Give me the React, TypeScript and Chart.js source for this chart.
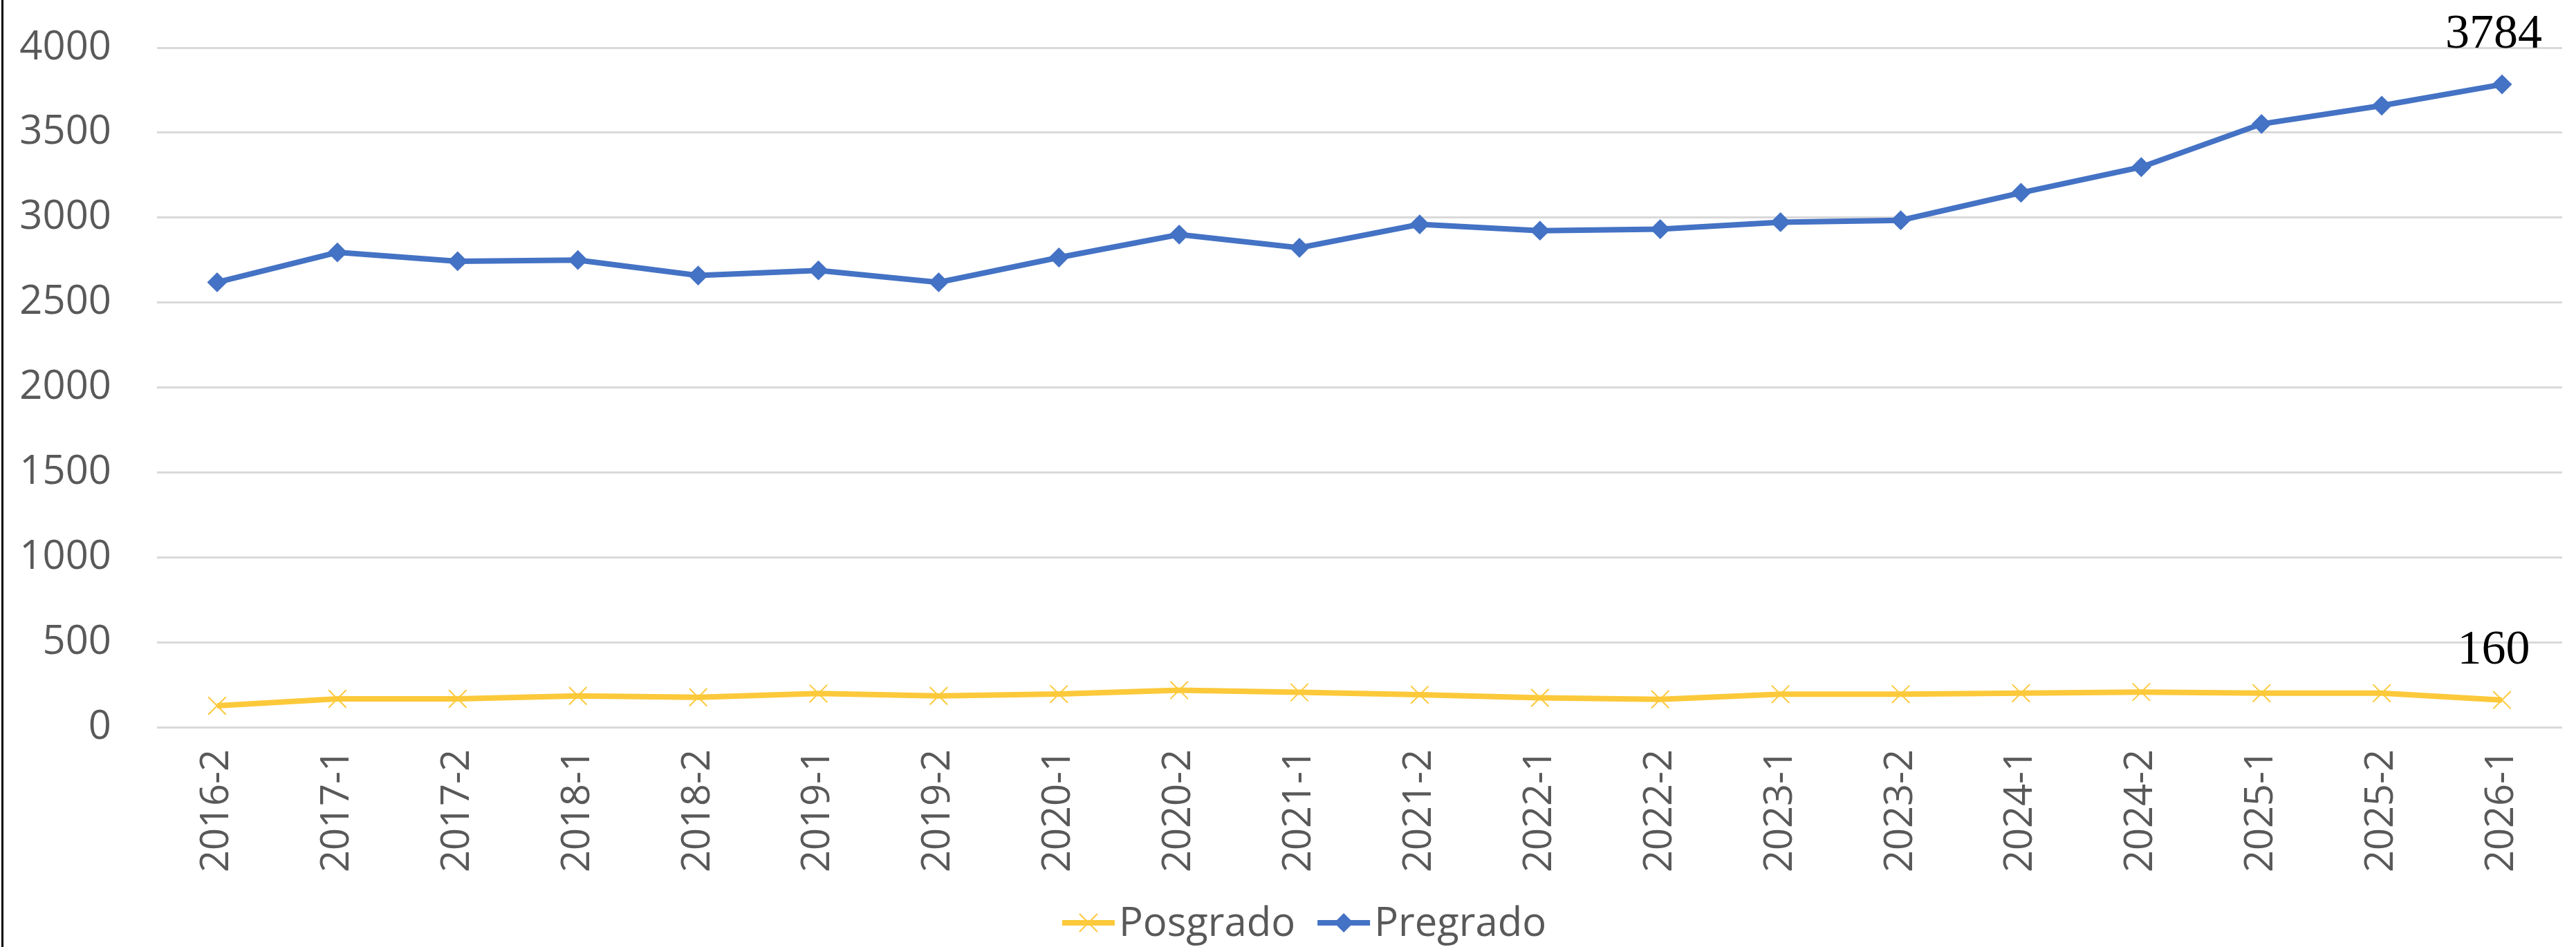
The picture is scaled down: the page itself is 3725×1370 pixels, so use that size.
import React, { useEffect, useRef } from 'react';
import { Chart, registerables } from 'chart.js';

Chart.register(...registerables);

const categories = [
  '2016-2', '2017-1', '2017-2', '2018-1', '2018-2', '2019-1', '2019-2', '2020-1', '2020-2', '2021-1',
  '2021-2', '2022-1', '2022-2', '2023-1', '2023-2', '2024-1', '2024-2', '2025-1', '2025-2', '2026-1',
];

const posgrado = [126, 167, 167, 184, 176, 198, 184, 195, 218, 205, 191, 173, 164, 194, 194, 200, 207, 200, 200, 160];

const pregrado = [2619, 2795, 2743, 2750, 2659, 2689, 2619, 2765, 2900, 2822, 2960, 2923, 2932, 2973, 2984, 3146, 3297, 3551, 3659, 3784];

const seriesNames = ['Posgrado', 'Pregrado'];

const yMin = 0;
const yMax = 4000;
const yStep = 500;

const BLUE = '#4472C4';
const GOLD = '#FCC93B';
const GRID = '#D9D9D9';
const TEXT = '#595959';
const SANS = '"Open Sans", "Noto Sans", sans-serif';

const lastValueLabels = {
  id: 'lastValueLabels',
  afterDatasetsDraw(chart: any) {
    const ctx = chart.ctx;
    ctx.save();
    ctx.font = '70px "Liberation Serif", "DejaVu Serif", serif';
    ctx.fillStyle = '#000000';
    ctx.textAlign = 'center';
    ctx.textBaseline = 'alphabetic';
    chart.data.datasets.forEach((ds: any, i: number) => {
      const meta = chart.getDatasetMeta(i);
      const last = meta.data[meta.data.length - 1];
      if (!last) return;
      const v = ds.data[ds.data.length - 1];
      ctx.fillText(String(v), last.x - 12, last.y - 53);
    });
    ctx.restore();
  },
};

const bottomLegend = {
  id: 'bottomLegend',
  afterDraw(chart: any) {
    const ctx = chart.ctx;
    const items = chart.data.datasets.map((ds: any) => ({
      label: ds.label,
      color: ds.borderColor,
      style: ds.pointStyle,
    }));
    ctx.save();
    ctx.font = '58px ' + SANS;
    const sampleW = 76;
    const gapText = 6;
    const gapItem = 32;
    const widths = items.map((it: any) => sampleW + gapText + ctx.measureText(it.label).width);
    const total = widths.reduce((a: number, b: number) => a + b, 0) + gapItem * (items.length - 1);
    const cy = 1335;
    let x = 1886 - total / 2;
    items.forEach((it: any, i: number) => {
      ctx.strokeStyle = it.color;
      ctx.lineWidth = 8;
      ctx.lineCap = 'butt';
      ctx.beginPath();
      ctx.moveTo(x, cy);
      ctx.lineTo(x + sampleW, cy);
      ctx.stroke();
      const mx = x + sampleW / 2;
      if (it.style === 'rectRot') {
        const r = 14;
        ctx.fillStyle = it.color;
        ctx.beginPath();
        ctx.moveTo(mx, cy - r);
        ctx.lineTo(mx + r, cy);
        ctx.lineTo(mx, cy + r);
        ctx.lineTo(mx - r, cy);
        ctx.closePath();
        ctx.fill();
      } else {
        const r = 13;
        ctx.lineWidth = 2;
        ctx.beginPath();
        ctx.moveTo(mx - r, cy - r);
        ctx.lineTo(mx + r, cy + r);
        ctx.moveTo(mx + r, cy - r);
        ctx.lineTo(mx - r, cy + r);
        ctx.stroke();
      }
      ctx.fillStyle = TEXT;
      ctx.textAlign = 'left';
      ctx.textBaseline = 'middle';
      ctx.fillText(it.label, x + sampleW + gapText, cy + 2);
      x += widths[i] + gapItem;
    });
    ctx.restore();
  },
};

export default function App() {
  const canvasRef = useRef<HTMLCanvasElement | null>(null);

  useEffect(() => {
    const canvas = canvasRef.current;
    if (!canvas) return;
    const chart = new Chart(canvas, {
      type: 'line',
      data: {
        labels: categories,
        datasets: [
          {
            label: seriesNames[0],
            data: posgrado,
            borderColor: GOLD,
            backgroundColor: GOLD,
            borderWidth: 8,
            pointStyle: 'crossRot',
            pointRadius: 18,
            pointBorderWidth: 2,
            pointBorderColor: GOLD,
            tension: 0,
          },
          {
            label: seriesNames[1],
            data: pregrado,
            borderColor: BLUE,
            backgroundColor: BLUE,
            borderWidth: 8,
            pointStyle: 'rectRot',
            pointRadius: 13,
            pointBorderWidth: 2,
            pointBorderColor: BLUE,
            pointBackgroundColor: BLUE,
            tension: 0,
          },
        ],
      },
      options: {
        responsive: false,
        animation: false,
        devicePixelRatio: 1,
        layout: { padding: { top: 69, left: 0, right: 2, bottom: 88 } },
        plugins: {
          legend: { display: false },
          tooltip: { enabled: false },
          title: { display: false },
        },
        scales: {
          x: {
            type: 'category',
            offset: true,
            grid: { display: false, drawTicks: false },
            border: { display: false },
            ticks: {
              minRotation: 90,
              maxRotation: 90,
              autoSkip: false,
              padding: 32,
              color: TEXT,
              font: { family: SANS, size: 56 },
            },
            afterFit(scale: any) {
              scale.height = 230;
            },
          },
          y: {
            min: yMin,
            max: yMax,
            grid: { color: GRID, lineWidth: 3, drawTicks: false },
            border: { display: false },
            ticks: {
              stepSize: yStep,
              padding: 66,
              color: TEXT,
              font: { family: SANS, size: 58 },
              callback: (v: any) => String(v),
            },
            afterFit(scale: any) {
              scale.width = 227;
              scale.paddingTop = 0;
              scale.paddingBottom = 0;
            },
          },
        },
      },
      plugins: [lastValueLabels, bottomLegend],
    });
    return () => chart.destroy();
  }, []);

  return (
    <div style={{ position: 'fixed', left: 0, top: 0, width: 3725, height: 1370, background: '#ffffff' }}>
      <canvas ref={canvasRef} width={3725} height={1370} style={{ display: 'block', width: 3725, height: 1370 }} />
      <div style={{ position: 'absolute', left: 2, top: 0, width: 3, height: 1370, background: '#000000' }} />
    </div>
  );
}
